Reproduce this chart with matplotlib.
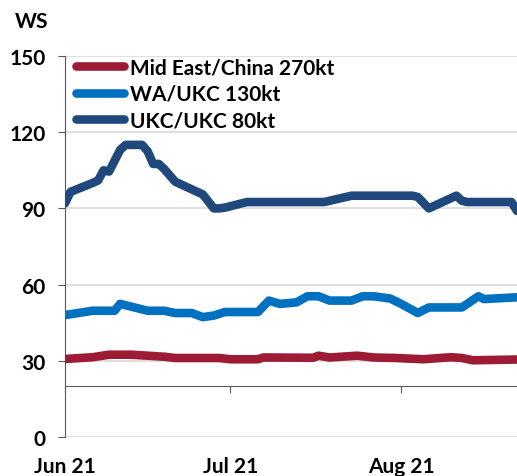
import matplotlib
matplotlib.use('Agg')
import matplotlib.pyplot as plt
import matplotlib.dates as mdates
import pandas as pd

plt.rcParams['font.family'] = ['Lato', 'DejaVu Sans']
plt.rcParams['font.weight'] = 'bold'

# Mid East/China 270kt
me_dates = ['2021-06-01', '2021-06-06', '2021-06-09', '2021-06-13', '2021-06-19',
            '2021-06-21', '2021-06-29', '2021-07-01', '2021-07-06', '2021-07-07',
            '2021-07-16', '2021-07-17', '2021-07-19', '2021-07-24', '2021-07-27',
            '2021-07-31', '2021-08-05', '2021-08-10', '2021-08-12', '2021-08-14',
            '2021-08-22']
me_ws = [30.7, 31.4, 32.4, 32.4, 31.6, 31.1, 31.1, 30.6, 30.6, 31.3,
         31.2, 32.0, 31.3, 32.0, 31.3, 31.1, 30.6, 31.4, 31.1, 30.2, 30.5]

# WA/UKC 130kt
wa_dates = ['2021-06-01', '2021-06-06', '2021-06-10', '2021-06-11', '2021-06-16',
            '2021-06-19', '2021-06-21', '2021-06-24', '2021-06-26', '2021-06-28',
            '2021-06-30', '2021-07-06', '2021-07-08', '2021-07-10', '2021-07-13',
            '2021-07-15', '2021-07-17', '2021-07-19', '2021-07-23', '2021-07-25',
            '2021-07-27', '2021-07-30', '2021-08-01', '2021-08-04', '2021-08-06',
            '2021-08-12', '2021-08-15', '2021-08-16', '2021-08-22']
wa_ws = [48.0, 49.7, 49.7, 52.4, 49.7, 49.7, 48.8, 48.8, 47.2, 47.8,
         49.2, 49.2, 53.7, 52.4, 53.0, 55.4, 55.4, 53.7, 53.7, 55.4,
         55.4, 54.5, 52.4, 48.8, 51.0, 51.0, 55.4, 54.3, 55.0]

# UKC/UKC 80kt
ukc_dates = ['2021-06-01', '2021-06-02', '2021-06-06', '2021-06-07', '2021-06-08',
             '2021-06-09', '2021-06-11', '2021-06-12', '2021-06-15', '2021-06-16',
             '2021-06-17', '2021-06-18', '2021-06-19', '2021-06-21', '2021-06-24',
             '2021-06-26', '2021-06-28', '2021-06-29', '2021-06-30', '2021-07-04',
             '2021-07-18', '2021-07-23', '2021-08-03', '2021-08-04', '2021-08-06',
             '2021-08-11', '2021-08-12', '2021-08-13', '2021-08-21', '2021-08-22']
ukc_ws = [92.0, 96.5, 100.0, 101.0, 105.0, 104.5, 113.0, 115.0, 115.0, 112.5,
          107.5, 107.5, 105.5, 100.5, 97.5, 95.5, 90.0, 90.0, 90.3, 92.5,
          92.5, 95.0, 95.0, 94.5, 90.0, 95.0, 93.0, 92.5, 92.5, 89.0]

y_ticks = [0, 30, 60, 90, 120, 150]

fig = plt.figure(figsize=(5.17, 4.77), dpi=100)
ax = fig.add_axes([0.1257, 0.0818, 0.8743, 0.7987])

lw = 6.2
ax.plot(pd.to_datetime(me_dates), me_ws, color='#9E1B36', lw=lw,
        solid_capstyle='round', solid_joinstyle='round', label='Mid East/China 270kt', zorder=3)
ax.plot(pd.to_datetime(wa_dates), wa_ws, color='#0070C0', lw=lw,
        solid_capstyle='round', solid_joinstyle='round', label='WA/UKC 130kt', zorder=3)
ax.plot(pd.to_datetime(ukc_dates), ukc_ws, color='#1F497D', lw=lw,
        solid_capstyle='round', solid_joinstyle='round', label='UKC/UKC 80kt', zorder=3)

ax.set_ylim(0, 150)
ax.set_xlim(pd.Timestamp('2021-06-01'), pd.Timestamp('2021-08-22'))
ax.set_yticks(y_ticks)
ax.yaxis.grid(True, color='#D9D9D9', lw=1.2)
ax.set_axisbelow(True)

for s in ['top', 'right']:
    ax.spines[s].set_visible(False)
ax.spines['left'].set_color('#595959')
ax.spines['bottom'].set_position(('data', 20))
ax.spines['bottom'].set_color('#595959')

ax.tick_params(axis='y', length=5, color='#595959', labelsize=15, pad=9)
ax.xaxis.set_major_locator(mdates.MonthLocator())
ax.tick_params(axis='x', length=5, color='#595959', labelbottom=False)

# labels sit at the bottom, while the axis line crosses at 20
sec = ax.secondary_xaxis(0)
sec.xaxis.set_major_locator(mdates.MonthLocator())
sec.xaxis.set_major_formatter(mdates.DateFormatter('%b %y'))
sec.tick_params(length=0, labelsize=15, pad=14)
sec.spines['bottom'].set_visible(False)

fig.text(0.029, 0.953, 'WS', fontsize=15, ha='left', va='center')

ax.legend(loc='upper left', bbox_to_anchor=(0.0243, 0.997), frameon=False,
          fontsize=15, handlelength=2.3, handletextpad=0.29, labelspacing=0.32,
          borderpad=0, borderaxespad=0)

fig.savefig('out.png', dpi=100)
